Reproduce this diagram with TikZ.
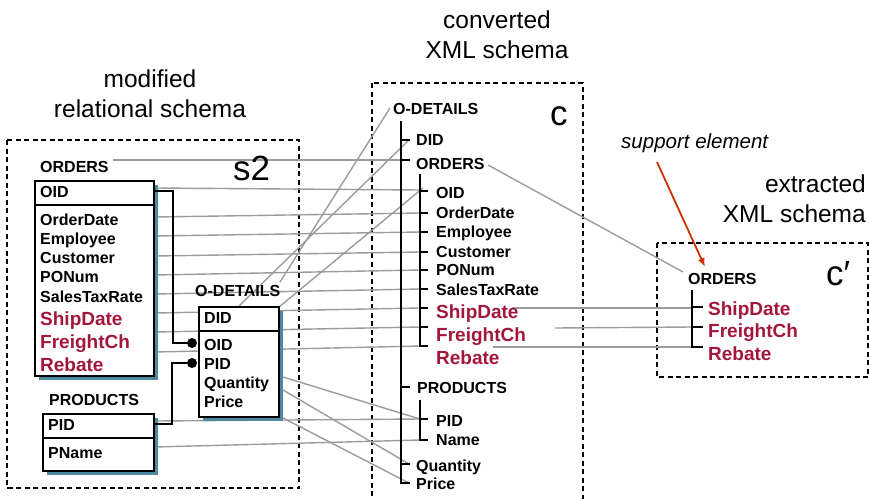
\documentclass[tikz,border=0pt]{standalone}
\usepackage{fontspec}
\setmainfont{Liberation Sans}
\usetikzlibrary{arrows.meta}

\definecolor{mapgray}{HTML}{9C9C9C}
\definecolor{fieldred}{HTML}{A3173D}
\definecolor{shadowblue}{HTML}{4C8AA2}
\definecolor{arrowred}{HTML}{CC3300}

\tikzset{
  fld/.style={font=\fontsize{16}{16}\selectfont\bfseries, inner sep=0pt, anchor=base west},
  redfld/.style={font=\fontsize{19}{19}\selectfont\bfseries, text=fieldred, inner sep=0pt, anchor=base west},
  heading/.style={font=\fontsize{24.5}{24.5}\selectfont, inner sep=0pt, anchor=base},
  bigname/.style={font=\fontsize{35}{35}\selectfont, inner sep=0pt, anchor=base west},
  map/.style={draw=mapgray, line width=1.4pt},
  tree/.style={draw=black, line width=1.8pt},
  schemabox/.style={draw=black, dash pattern=on 5pt off 3.5pt, line width=1.5pt},
  tablebox/.style={draw=black, line width=1.8pt, fill=white},
  tableshadow/.style={fill=shadowblue, draw=none},
  fk/.style={draw=black, line width=1.6pt},
  fkdot/.style={fill=black, draw=none},
}

\begin{document}
\begin{tikzpicture}[x=1pt,y=-1pt]
\useasboundingbox (0,0) rectangle (869,498);
\fill[white] (0,0) rectangle (869,498);

% ---------- headings ----------
\node[heading] (h-mod1) at (150,87) {modified};
\node[heading] (h-mod2) at (150,117) {relational schema};
\node[heading] (h-conv1) at (497,28) {converted};
\node[heading] (h-conv2) at (497,58) {XML schema};
\node[heading, anchor=base east] (h-ext1) at (866,192) {extracted};
\node[heading, anchor=base east] (h-ext2) at (866,222) {XML schema};

% ---------- schema frames ----------
\draw[schemabox] (7,140) rectangle (299,488);
\draw[schemabox] (372,83) rectangle (583,530);
\draw[schemabox] (657,243) rectangle (868,377);

% ---------- anchor points of the relational columns ----------
\coordinate (s-orders) at (113,160);
\coordinate (c-orders-t) at (401,160);
\foreach \n/\ly/\ry in {oid/188/190, orderdate/217/213, employee/236/232,
    customer/256/252, ponum/275/270, salestax/294/289, shipdate/313/308,
    freight/332/327, rebate/352/346}{
  \coordinate (s-\n) at (155,\ly);
  \coordinate (c-\n) at (420,\ry);
}
\coordinate (s-odlabel) at (280,282);
\coordinate (s-odtop) at (239,306);
\coordinate (s-odcorner) at (279,307);
\coordinate (s-odpid) at (283,377);
\coordinate (s-odqty) at (283,390);
\coordinate (s-odprice) at (283,418);
\coordinate (s-pid) at (155,421);
\coordinate (s-pname) at (155,447);

\coordinate (c-odlabel) at (390,108);
\coordinate (c-did) at (409,140);
\coordinate (c-oid-j) at (423,188);
\coordinate (c-pid) at (420,419);
\coordinate (c-name) at (420,440);
\coordinate (c-qty) at (409,464);
\coordinate (c-price) at (409,483);
\coordinate (c-orders-r) at (488,165);
\coordinate (c-ship-r) at (512,308);
\coordinate (c-freight-r) at (555,328);
\coordinate (c-rebate-r) at (493,347);

\coordinate (x-orders) at (683,272);
\coordinate (x-ship) at (692,308);
\coordinate (x-freight) at (692,327);
\coordinate (x-rebate) at (692,347);

% ---------- correspondences ----------
\draw[map] (s-orders) -- (c-orders-t);
\foreach \n in {oid, orderdate, employee, customer, ponum, salestax, shipdate, freight, rebate}
  \draw[map] (s-\n) -- (c-\n);
\draw[map] (c-odlabel) -- (s-odlabel);
\draw[map] (c-did) -- (s-odtop);
\draw[map] (c-oid-j) -- (s-odcorner);
\draw[map] (s-odpid) -- (c-pid);
\draw[map] (s-odqty) -- (c-qty);
\draw[map] (s-odprice) -- (c-price);
\draw[map] (s-pid) -- (c-pid);
\draw[map] (s-pname) -- (c-name);
\draw[map] (c-orders-r) -- (x-orders);
\draw[map] (c-ship-r) -- (x-ship);
\draw[map] (c-freight-r) -- (x-freight);
\draw[map] (c-rebate-r) -- (x-rebate);

% ---------- relational tables ----------
% ORDERS
\fill[tableshadow] (39,185) rectangle (158,380);
\draw[tablebox] (35,181) rectangle (154,376);
\draw[line width=1.8pt] (35,205) -- (154,205);
% O-DETAILS
\fill[tableshadow] (203,311) rectangle (283,421);
\draw[tablebox] (199,307) rectangle (279,417);
\draw[line width=1.8pt] (199,331) -- (279,331);
% PRODUCTS
\fill[tableshadow] (47,418) rectangle (158,475);
\draw[tablebox] (43,414) rectangle (154,471);
\draw[line width=1.8pt] (43,438) -- (154,438);

% foreign keys
\coordinate (fk-oid-s) at (155,191);
\coordinate (fk-oid-t) at (192,343);
\coordinate (fk-pid-s) at (155,424);
\coordinate (fk-pid-t) at (192,363);
\draw[fk] (fk-oid-s) -| (173,343) -- (fk-oid-t);
\draw[fk] (fk-pid-s) -| (172,363) -- (fk-pid-t);
\fill[fkdot] (fk-oid-t) circle (5);
\fill[fkdot] (fk-pid-t) circle (5);

% table texts
\node[fld] (t-orders) at (40,172) {ORDERS};
\node[fld] (t-oid) at (40,197) {OID};
\node[fld] (t-orderdate) at (40,225) {OrderDate};
\node[fld] (t-employee) at (40,244) {Employee};
\node[fld] (t-customer) at (40,263) {Customer};
\node[fld] (t-ponum) at (40,282) {PONum};
\node[fld] (t-salestax) at (40,302) {SalesTaxRate};
\node[redfld] (t-shipdate) at (40,325) {ShipDate};
\node[redfld] (t-freight) at (40,348) {FreightCh};
\node[redfld] (t-rebate) at (40,371) {Rebate};

\node[fld] (t-od) at (195,296) {O-DETAILS};
\node[fld] (t-did) at (204,323) {DID};
\node[fld] (t-odoid) at (204,350) {OID};
\node[fld] (t-odpid) at (204,369) {PID};
\node[fld] (t-qty) at (204,388) {Quantity};
\node[fld] (t-price) at (204,407) {Price};

\node[fld] (t-products) at (49,405) {PRODUCTS};
\node[fld] (t-pid) at (48,430) {PID};
\node[fld] (t-pname) at (48,458) {PName};

\node[bigname] (n-s2) at (233,180) {s2};

% ---------- converted XML schema ----------
\draw[tree] (401,121) -- (401,483) -- (410,483);
\foreach \y in {140,160,387,464} \draw[tree] (401,\y) -- (410,\y);
\draw[tree] (420,174) -- (420,346) -- (428,346);
\foreach \y in {191,213,232,252,270,289,308,327} \draw[tree] (420,\y) -- (428,\y);
\draw[tree] (420,400) -- (420,440) -- (428,440);
\draw[tree] (420,419) -- (428,419);

\node[fld] (x-od) at (393,114) {O-DETAILS};
\node[fld] (x-did) at (416,145) {DID};
\node[fld] (x-orders-n) at (416,169) {ORDERS};
\node[fld] (x-oid) at (436,198) {OID};
\node[fld] (x-orderdate) at (436,218) {OrderDate};
\node[fld] (x-employee) at (436,237) {Employee};
\node[fld] (x-customer) at (436,257) {Customer};
\node[fld] (x-ponum) at (436,275) {PONum};
\node[fld] (x-salestax) at (436,295) {SalesTaxRate};
\node[redfld] (x-shipdate) at (436,318) {ShipDate};
\node[redfld] (x-freight) at (436,341) {FreightCh};
\node[redfld] (x-rebate) at (436,364) {Rebate};
\node[fld] (x-products) at (417,393) {PRODUCTS};
\node[fld] (x-pid) at (436,426) {PID};
\node[fld] (x-name) at (436,445) {Name};
\node[fld] (x-qty) at (416,471) {Quantity};
\node[fld] (x-price) at (416,489) {Price};

\node[bigname] (n-c) at (550,125) {c};

% ---------- extracted XML schema ----------
\draw[tree] (692,290) -- (692,347) -- (703,347);
\foreach \y in {307,327} \draw[tree] (692,\y) -- (703,\y);
\node[fld] (e-orders) at (688,284) {ORDERS};
\node[redfld] (e-shipdate) at (708,315) {ShipDate};
\node[redfld] (e-freight) at (708,337) {FreightCh};
\node[redfld] (e-rebate) at (708,360) {Rebate};

\node[bigname] (n-cprime) at (826,285) {c′};

% support element note
\node[font=\fontsize{20.5}{20.5}\selectfont\itshape, inner sep=0pt, anchor=base west]
  (note) at (621,148) {support element};
\coordinate (note-tail) at (657,162);
\coordinate (note-head) at (705,267);
\draw[arrowred, line width=1.8pt, -{Latex[length=9pt,width=7pt]}] (note-tail) -- (note-head);
\end{tikzpicture}
\end{document}
